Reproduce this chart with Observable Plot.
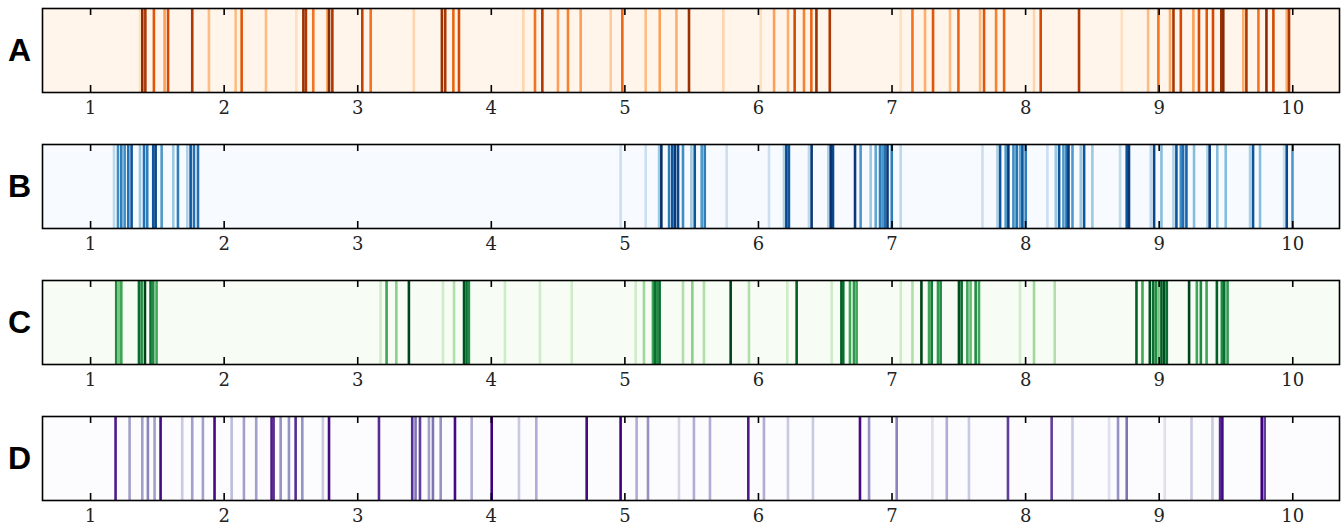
<!DOCTYPE html>
<html>
<head>
<meta charset="utf-8">
<script src="https://cdn.jsdelivr.net/npm/d3@7"></script>
<script src="https://cdn.jsdelivr.net/npm/@observablehq/plot@0.6"></script>
<style>
  html, body { margin: 0; padding: 0; background: #fff; }
  #chart svg { display: block; }
</style>
</head>
<body>
<div id="chart"></div>
<script>
const panelLabels = ["A", "B", "C", "D"];
const schemes = ["oranges", "blues", "greens", "purples"];
const xTicks = [1, 2, 3, 4, 5, 6, 7, 8, 9, 10];
const xDomain = [0.64, 10.35];

const aX = [1.37, 1.387, 1.41, 1.474, 1.554, 1.58, 1.761, 1.886, 2.086, 2.131, 2.313, 2.54, 2.593, 2.612, 2.667, 2.772, 2.785, 2.81, 3.034, 3.097, 3.42, 3.63, 3.655, 3.716, 3.758,
  4.24, 4.327, 4.382, 4.499, 4.574, 4.669, 4.894, 4.981, 5.156, 5.261, 5.386, 5.48, 5.737, 6.017, 6.117, 6.221, 6.271, 6.341, 6.396, 6.434, 6.534,
  7.065, 7.153, 7.247, 7.307, 7.434, 7.497, 7.659, 7.689, 7.779, 7.839, 8.063, 8.113, 8.4, 8.72, 8.917, 8.994, 9.081, 9.107, 9.162, 9.256, 9.298, 9.356, 9.403, 9.465, 9.48, 9.63, 9.653, 9.743, 9.803, 9.855, 9.955, 9.972];
const aV = [0.15, 0.9, 0.8, 0.65, 0.4, 0.7, 0.8, 0.3, 0.3, 0.65, 0.3, 0.15, 0.85, 0.8, 0.55, 0.35, 0.9, 0.8, 0.75, 0.55, 0.2, 0.85, 0.8, 0.6, 0.7,
  0.2, 0.55, 0.8, 0.4, 0.5, 0.4, 0.25, 0.6, 0.3, 0.4, 0.35, 0.85, 0.2, 0.15, 0.4, 0.35, 0.7, 0.5, 0.6, 0.85, 0.8,
  0.15, 0.55, 0.35, 0.65, 0.3, 0.6, 0.3, 0.65, 0.5, 0.6, 0.2, 0.7, 0.8, 0.15, 0.3, 0.55, 0.35, 0.8, 0.7, 0.4, 0.7, 0.65, 0.7, 0.85, 0.9, 0.35, 0.8, 0.55, 0.9, 0.7, 0.35, 0.8];

const bX = [1.175, 1.205, 1.23, 1.255, 1.282, 1.307, 1.37, 1.4, 1.424, 1.469, 1.487, 1.532, 1.619, 1.654, 1.724, 1.749, 1.774, 1.804,
  4.968, 5.156, 5.256, 5.273, 5.331, 5.355, 5.375, 5.398, 5.435, 5.498, 5.523, 5.575, 5.598, 5.762, 6.079, 6.191, 6.209, 6.228, 6.378, 6.398, 6.523, 6.541, 6.558, 6.723, 6.765, 6.84, 6.878, 6.91, 6.928, 6.946, 6.966, 6.998,
  7.065, 7.677, 7.789, 7.809, 7.851, 7.871, 7.909, 7.933, 7.958, 7.976, 8.001, 8.163, 8.226, 8.251, 8.283, 8.306, 8.321, 8.351, 8.413, 8.438, 8.5, 8.707, 8.757, 8.774, 8.937, 8.962, 9.017,
  9.107, 9.129, 9.162, 9.179, 9.204, 9.261, 9.361, 9.378, 9.435, 9.498, 9.68, 9.703, 9.755, 9.935, 9.955, 9.998];
const bV = [0.25, 0.6, 0.65, 0.6, 0.7, 0.8, 0.35, 0.7, 0.65, 0.8, 0.85, 0.55, 0.35, 0.65, 0.3, 0.8, 0.7, 0.7,
  0.2, 0.2, 0.35, 0.95, 0.65, 0.8, 0.9, 0.85, 0.6, 0.35, 0.8, 0.55, 0.65, 0.2, 0.2, 0.3, 0.85, 0.8, 0.25, 0.9, 0.3, 0.95, 0.85, 0.9, 0.55, 0.35, 0.5, 0.65, 0.55, 0.7, 0.9, 0.65,
  0.25, 0.2, 0.3, 0.8, 0.55, 0.9, 0.6, 0.7, 0.5, 0.8, 0.65, 0.2, 0.35, 0.8, 0.55, 0.7, 0.9, 0.55, 0.35, 0.8, 0.35, 0.25, 0.8, 0.9, 0.25, 0.85, 0.4,
  0.3, 0.8, 0.6, 0.7, 0.75, 0.4, 0.3, 0.9, 0.4, 0.4, 0.3, 0.8, 0.4, 0.2, 0.85, 0.55];

const cX = [1.192, 1.212, 1.23, 1.362, 1.382, 1.407, 1.449, 1.469, 1.494, 3.171, 3.216, 3.289, 3.383, 3.638,
  3.721, 3.796, 3.815, 3.832, 4.102, 4.364, 4.602, 5.081, 5.143, 5.21, 5.225, 5.243, 5.26, 5.435, 5.505, 5.592, 5.792, 5.929, 6.216, 6.286, 6.548, 6.621, 6.635, 6.685, 6.715, 6.735,
  7.065, 7.153, 7.22, 7.277, 7.297, 7.344, 7.364, 7.501, 7.521, 7.564, 7.588, 7.626, 7.651, 7.958, 8.063, 8.218, 8.83, 8.875, 8.93, 8.955, 8.975, 8.995, 9.017, 9.037, 9.057,
  9.224, 9.282, 9.312, 9.355, 9.432, 9.469, 9.487, 9.512];
const cV = [0.7, 0.45, 0.6, 0.8, 0.7, 0.95, 0.8, 0.7, 0.6, 0.2, 0.6, 0.4, 0.95, 0.2,
  0.3, 0.9, 0.8, 0.7, 0.2, 0.2, 0.2, 0.2, 0.35, 0.6, 0.8, 0.7, 0.8, 0.3, 0.4, 0.3, 0.95, 0.3, 0.2, 0.85, 0.2, 0.85, 0.8, 0.6, 0.65, 0.6,
  0.2, 0.3, 0.95, 0.6, 0.75, 0.65, 0.7, 0.9, 0.8, 0.6, 0.5, 0.7, 0.6, 0.2, 0.35, 0.3, 0.85, 0.6, 0.9, 0.8, 0.7, 0.45, 0.85, 0.9, 0.8,
  0.95, 0.6, 0.7, 0.6, 0.85, 0.7, 0.8, 0.65];

const dX = [1.187, 1.292, 1.387, 1.429, 1.479, 1.524, 1.686, 1.761, 1.841, 1.928, 2.056, 2.148, 2.24, 2.355, 2.37, 2.423, 2.485, 2.535, 2.585, 2.739, 2.785,
  3.159, 3.408, 3.433, 3.466, 3.533, 3.563, 3.621, 3.728, 3.853, 4.003, 4.207, 4.337, 4.714, 4.968, 5.088, 5.173, 5.405, 5.517, 5.637, 5.924, 6.041, 6.221, 6.408, 6.76, 6.828,
  7.035, 7.302, 7.41, 7.576, 7.868, 8.195, 8.351, 8.625, 8.692, 8.757, 9.042, 9.242, 9.399, 9.456, 9.473, 9.768, 9.79];
const dV = [0.85, 0.45, 0.45, 0.55, 0.45, 0.9, 0.3, 0.45, 0.45, 0.9, 0.35, 0.45, 0.45, 0.85, 0.8, 0.5, 0.5, 0.8, 0.5, 0.3, 0.9,
  0.8, 0.8, 0.6, 0.75, 0.45, 0.6, 0.5, 0.9, 0.4, 0.95, 0.3, 0.4, 0.9, 0.95, 0.4, 0.5, 0.25, 0.4, 0.4, 0.85, 0.4, 0.3, 0.3, 0.9, 0.5,
  0.55, 0.2, 0.4, 0.3, 0.75, 0.75, 0.3, 0.2, 0.5, 0.6, 0.2, 0.3, 0.3, 0.8, 0.9, 0.95, 0.75];

const positions = [aX, bX, cX, dX];
const values = [aV, bV, cV, dV];
const bgInterp = [d3.interpolateOranges, d3.interpolateBlues, d3.interpolateGreens, d3.interpolatePurples];

const container = document.getElementById("chart");
panelLabels.forEach((label, i) => {
  const rows = positions[i].map((x, j) => ({x, v: values[i][j]}));
  const plot = Plot.plot({
    width: 1343,
    height: 136,
    marginLeft: 42,
    marginRight: 4,
    marginTop: 8,
    marginBottom: 44,
    x: {domain: xDomain, label: null, axis: null},
    color: {type: "linear", scheme: schemes[i], domain: [0, 0.93], clamp: true},
    marks: [
      Plot.frame({fill: bgInterp[i](0), stroke: "none"}),
      Plot.ruleX(rows, {x: "x", stroke: "v", strokeWidth: 2.6}),
      Plot.frame({stroke: "black", strokeWidth: 1.6}),
      Plot.ruleX(xTicks, {x: d => d, insetTop: 77, stroke: "black", strokeWidth: 1.6}),
      Plot.ruleX(xTicks, {x: d => d, insetBottom: 77, stroke: "black", strokeWidth: 1.6}),
      Plot.text(xTicks, {x: d => d, text: d => String(d), frameAnchor: "bottom", lineAnchor: "middle", dy: 16, fontSize: 18, fontFamily: "DejaVu Serif", fill: "#222"}),
      Plot.text([label], {frameAnchor: "left", dx: -23, text: d => d, textAnchor: "middle", fontSize: 32, fontWeight: "bold", fontFamily: "Liberation Sans", fill: "black"})
    ]
  });
  container.appendChild(plot);
});
</script>
</body>
</html>
